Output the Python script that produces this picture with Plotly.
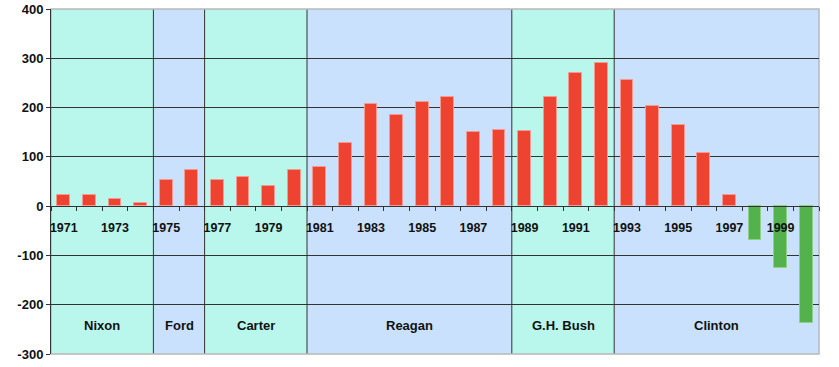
import plotly.graph_objects as go

years = list(range(1971, 2001))
deficit = [23.0, 23.4, 14.9, 6.1, 53.2, 73.7, 53.7, 59.2, 40.7, 73.8,
           79.0, 128.0, 207.8, 185.4, 212.3, 221.2, 149.7, 155.2, 152.6, 221.0,
           269.2, 290.3, 255.1, 203.2, 164.0, 107.4, 21.9, -69.3, -125.6, -236.2]

presidents = ["Nixon", "Ford", "Carter", "Reagan", "G.H. Bush", "Clinton"]
term_start = [1971, 1975, 1977, 1981, 1989, 1993]
term_end = [1974, 1976, 1980, 1988, 1992, 2000]
term_colors = ["#B9F7ED", "#C9E1FC", "#B9F7ED", "#C9E1FC", "#B9F7ED", "#C9E1FC"]

label_years = [y for y in years if y % 2 == 1]
y_ticks = [400, 300, 200, 100, 0, -100, -200, -300]
y_tick_text = [str(v) for v in y_ticks]
label_level = -242

bar_colors = ["#EE4330" if v >= 0 else "#53B24C" for v in deficit]
edge_colors = ["#F59A90" if v >= 0 else "#8FD089" for v in deficit]

fig = go.Figure()
fig.add_trace(go.Bar(
    x=years, y=deficit, width=0.5,
    marker=dict(color=bar_colors, line=dict(color=edge_colors, width=1)),
    hoverinfo="x+y",
))

shapes = []
for s, e, c in zip(term_start, term_end, term_colors):
    shapes.append(dict(type="rect", xref="x", yref="y domain", x0=s - 0.5, x1=e + 0.5,
                       y0=0, y1=1, fillcolor=c, line=dict(width=0), layer="below"))
for s in term_start[1:]:
    shapes.append(dict(type="line", xref="x", yref="y domain", x0=s - 0.5, x1=s - 0.5,
                       y0=0, y1=1, line=dict(color="#333333", width=1), layer="below"))
shapes.append(dict(type="rect", xref="paper", yref="paper", x0=0, x1=1, y0=0, y1=1,
                   line=dict(color="#B8B8B8", width=1.5), fillcolor="rgba(0,0,0,0)", layer="below"))

annotations = []
for name, s, e in zip(presidents, term_start, term_end):
    annotations.append(dict(x=(s + e) / 2, y=label_level, xref="x", yref="y", text=name,
                            showarrow=False,
                            font=dict(family="Liberation Sans, Arial", size=13, color="#111111",
                                      weight="bold")))

ymin, ymax = -300, 400
fig.update_layout(
    width=839, height=367,
    margin=dict(l=51, r=20, t=9, b=13, autoexpand=False),
    paper_bgcolor="white", plot_bgcolor="white",
    showlegend=False, bargap=0,
    shapes=shapes, annotations=annotations,
    xaxis=dict(
        range=[years[0] - 0.5, years[-1] + 0.5], automargin=False,
        tickmode="array", tickvals=label_years, ticktext=[str(y) for y in label_years],
        ticks="", showgrid=False, zeroline=False,
        showline=True, linecolor="#333333", linewidth=1,
        anchor="free", position=(0 - ymin) / (ymax - ymin),
        tickfont=dict(family="Liberation Sans, Arial", size=12.5, color="#111111", weight="bold"),
        ticklabelstandoff=10,
        minor=dict(tickmode="linear", tick0=years[0] - 0.5, dtick=1, ticks="outside",
                   ticklen=4, tickcolor="#333333", showgrid=False),
    ),
    yaxis=dict(
        range=[ymin, ymax], tickmode="array", tickvals=y_ticks, ticktext=y_tick_text,
        automargin=False,
        showgrid=True, gridcolor="#333333", gridwidth=1, zeroline=False,
        showline=True, linecolor="#333333", linewidth=1,
        ticks="outside", ticklen=4, tickcolor="#333333",
        tickfont=dict(family="Liberation Sans, Arial", size=13, color="#111111", weight="bold"),
    ),
)

fig.write_html("out.html", config={"displayModeBar": False},
               post_script="document.body.style.margin='0';document.body.style.overflow='hidden';")
